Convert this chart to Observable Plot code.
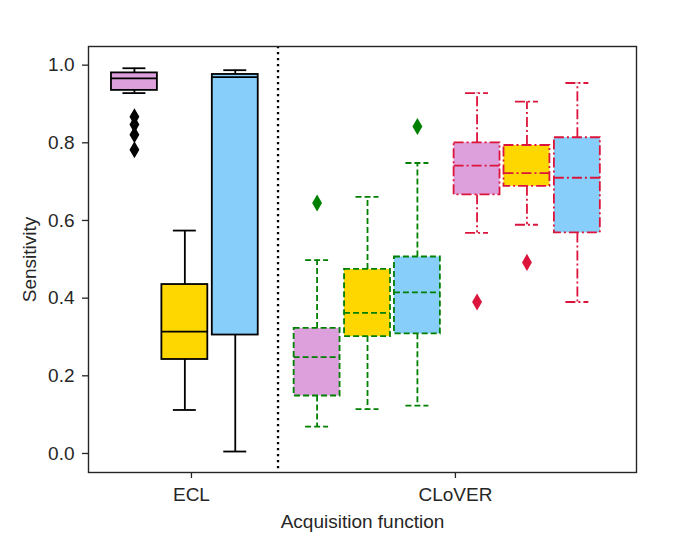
<!DOCTYPE html>
<html>
<head>
<meta charset="utf-8">
<script src="https://cdn.jsdelivr.net/npm/d3@7"></script>
<script src="https://cdn.jsdelivr.net/npm/@observablehq/plot@0.6"></script>
<style>
  html, body { margin: 0; padding: 0; background: white; overflow: hidden; }
</style>
</head>
<body>
<div id="chart"></div>
<script>
// ---- data ----
const tickLabels = ["ECL", "CLoVER"];
const tickValues = [0, 1];
const yTicks = [0, 0.2, 0.4, 0.6, 0.8, 1.0];

const boxSeries = ["ECL", "ECL", "ECL", "CLoVER-A", "CLoVER-A", "CLoVER-A", "CLoVER-B", "CLoVER-B", "CLoVER-B"];
const boxHue    = ["plum", "gold", "sky", "plum", "gold", "sky", "plum", "gold", "sky"];
const whiskerLow  = [0.928, 0.112, 0.005, 0.069, 0.114, 0.123, 0.568, 0.589, 0.390];
const quartile1   = [0.935, 0.242, 0.305, 0.148, 0.301, 0.308, 0.666, 0.688, 0.568];
const median      = [0.966, 0.314, 0.969, 0.248, 0.362, 0.415, 0.741, 0.722, 0.710];
const quartile3   = [0.980, 0.435, 0.976, 0.322, 0.474, 0.506, 0.800, 0.793, 0.813];
const whiskerHigh = [0.992, 0.574, 0.987, 0.498, 0.661, 0.748, 0.928, 0.906, 0.954];

const outlierBox   = [0, 0, 0, 0, 3, 5, 6, 7];
const outlierValue = [0.867, 0.847, 0.821, 0.782, 0.645, 0.842, 0.390, 0.492];

// ---- layout & style ----
const boxPos = [-0.216, -0.025, 0.166, 0.476, 0.667, 0.856, 1.082, 1.271, 1.462];
const boxWidth = 0.174;
const dividerX = 0.328;
const hueFill = { plum: "#DDA0DD", gold: "#FFD700", sky: "#87CEFA" };
const seriesStyle = {
  "ECL":      { stroke: "black",   dash: null },
  "CLoVER-A": { stroke: "#008000", dash: "6,3" },
  "CLoVER-B": { stroke: "#DC143C", dash: "10,3,2,3" }
};

const boxes = boxSeries.map((s, i) => ({
  series: s, hue: boxHue[i], pos: boxPos[i],
  lo: whiskerLow[i], q1: quartile1[i], med: median[i], q3: quartile3[i], hi: whiskerHigh[i]
}));
const outliers = outlierBox.map((b, i) => ({ series: boxSeries[b], pos: boxPos[b], value: outlierValue[i] }));

const lw = 1.8;
const boxMarks = [];
for (const s of Object.keys(seriesStyle)) {
  const st = seriesStyle[s];
  const data = boxes.filter(d => d.series === s);
  const common = { stroke: st.stroke, strokeWidth: lw, strokeDasharray: st.dash || undefined };
  boxMarks.push(
    Plot.ruleX(data, { x: "pos", y1: "q3", y2: "hi", ...common }),
    Plot.ruleX(data, { x: "pos", y1: "q1", y2: "lo", ...common }),
    Plot.ruleY(data, { y: "hi", x1: d => d.pos - boxWidth / 4, x2: d => d.pos + boxWidth / 4, ...common }),
    Plot.ruleY(data, { y: "lo", x1: d => d.pos - boxWidth / 4, x2: d => d.pos + boxWidth / 4, ...common }),
    Plot.rect(data, { x1: d => d.pos - boxWidth / 2, x2: d => d.pos + boxWidth / 2, y1: "q1", y2: "q3",
                      fill: d => hueFill[d.hue], ...common }),
    Plot.ruleY(data, { y: "med", x1: d => d.pos - boxWidth / 2, x2: d => d.pos + boxWidth / 2, ...common }),
    Plot.dot(outliers.filter(d => d.series === s), { x: "pos", y: "value", symbol: "diamond", r: 5.2,
                      fill: st.stroke, stroke: "none" })
  );
}

const chart = Plot.plot({
  width: 684,
  height: 544,
  marginLeft: 88,
  marginRight: 48,
  marginTop: 46,
  marginBottom: 72,
  style: { fontFamily: "'Liberation Sans', Arial, sans-serif", fontSize: "19px", color: "#262626", background: "white" },
  x: { domain: [-0.390, 1.686] },
  y: { domain: [-0.049, 1.048] },
  color: { type: "identity" },
  marks: [
    ...boxMarks,
    Plot.ruleX([dividerX], { stroke: "black", strokeWidth: 2.3, strokeDasharray: "2.3,3.7" }),
    Plot.frame({ stroke: "#262626", strokeWidth: 1.4 }),
    Plot.axisX({ ticks: tickValues, tickFormat: d => tickLabels[tickValues.indexOf(d)], tickSize: 6, tickPadding: 9, strokeWidth: 1.3, label: null }),
    Plot.axisY({ ticks: yTicks, tickFormat: d3.format(".1f"), tickSize: 6, tickPadding: 8, strokeWidth: 1.3, label: null }),
    Plot.text(["Sensitivity"], { frameAnchor: "left", dx: -59, rotate: -90, textAnchor: "middle", lineAnchor: "middle", fill: "#262626" }),
    Plot.text(["Acquisition function"], { frameAnchor: "bottom", dy: 55, textAnchor: "middle", lineAnchor: "bottom", fill: "#262626" })
  ]
});
document.getElementById("chart").appendChild(chart);
</script>
</body>
</html>
